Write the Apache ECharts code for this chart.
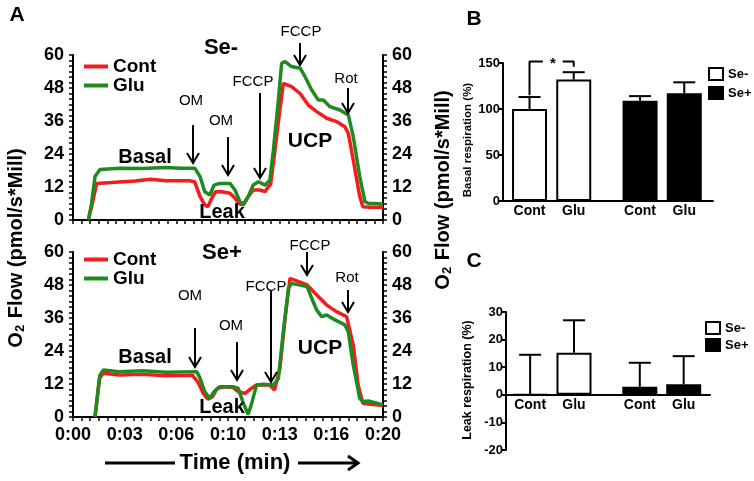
<!DOCTYPE html>
<html>
<head>
<meta charset="utf-8">
<script src="https://cdn.jsdelivr.net/npm/echarts@6/dist/echarts.min.js"></script>
<style>html,body{margin:0;padding:0;background:#fff;}#c{width:754px;height:481px;}</style>
</head>
<body>
<div id="c"></div>
<script>
// ---------- DATA ----------
const timeTickLabels = ['0:00','0:03','0:06','0:10','0:13','0:16','0:20'];
const seMinusCont = [[0.99,0],[1.25,6],[1.53,13.3],[2.5,13.6],[4,14.2],[5,14.8],[6,14.3],[7.5,14.3],[7.85,13.9],[8.2,8.5],[8.5,5.5],[8.7,4.8],[8.95,7.9],[9.2,10.3],[9.6,10.3],[10.13,9.7],[10.45,7.9],[10.77,5.8],[11.0,5.5],[11.3,8.5],[11.63,10.9],[12.06,10.9],[12.39,10.3],[12.6,12.1],[12.75,13],[13.0,24],[13.3,38],[13.57,49.7],[14.1,48.5],[14.65,46],[15.18,41.8],[15.72,39.4],[16.37,37],[17.0,35.8],[17.54,33.9],[17.76,31.5],[18.08,21.8],[18.5,8.5],[18.7,4.8],[19.2,4.6],[20,4.6]];
const seMinusGlu = [[0.99,0],[1.2,6],[1.42,15.8],[1.74,18.4],[3,18.8],[4.5,18.7],[6,19.1],[7.0,18.8],[7.87,18.8],[8.2,15.8],[8.5,10.3],[8.83,9.1],[9.1,12.7],[9.46,13.3],[10.13,13.3],[10.45,10.9],[10.77,6.7],[10.99,5.8],[11.3,8.5],[11.63,12.7],[11.96,13.9],[12.39,12.7],[12.7,14.5],[12.93,25.5],[13.25,43.6],[13.46,57],[13.68,57.6],[14.1,55.8],[14.65,55.2],[14.97,52.1],[15.4,47.3],[15.83,43.6],[16.15,43.6],[16.58,41.2],[17.22,40],[17.76,38.2],[18.08,30.3],[18.5,15.8],[18.83,6.7],[19.05,6.1],[20,5.8]];
const sePlusCont = [[1.42,0],[1.7,14],[1.96,15.9],[3,15.3],[4.5,15.5],[6,15],[7.7,15.2],[8.05,12.8],[8.4,8.6],[8.7,6.5],[9.0,7.4],[9.3,10.4],[9.8,11],[10.34,10.7],[10.66,9.2],[11.1,8.6],[11.5,10.4],[11.84,11.6],[12.7,11.6],[13.0,9.8],[13.35,17.7],[13.68,35.9],[14.0,50.4],[14.3,49.8],[15.1,48],[15.72,44.4],[16.37,40.7],[17.0,38.3],[17.65,36.5],[18.08,26.2],[18.4,11.6],[18.7,5],[19.2,4.6],[20,4.2]];
const sePlusGlu = [[1.42,0],[1.74,15.3],[1.96,17.1],[3,16.5],[4.5,16.8],[6,16.3],[7.98,16.5],[8.2,14.1],[8.5,9.2],[8.83,6.8],[9.1,9.2],[9.46,11],[10.34,11],[10.66,10.4],[10.99,5],[11.3,1],[11.5,4.4],[11.84,11.6],[12.28,11.9],[12.93,11.6],[13.25,14],[13.57,31],[13.9,46.8],[14.1,48.6],[15.1,47.4],[15.4,43.2],[15.72,38.9],[16.04,36.5],[16.37,37.1],[16.9,35.3],[17.54,33.5],[17.76,31],[18.08,18.9],[18.5,6.8],[18.7,5.6],[19.05,5.8],[19.9,4.6],[20,4.5]];

const barLabels = ['Cont','Glu','Cont','Glu'];
const barGroupPos = [0, 1, 2.5, 3.5];
const barDiet = ['Se-','Se-','Se+','Se+'];
const basalMean = [100, 132, 109, 117];
const basalErr = [13, 8, 5, 12];
const leakMean = [0, 15.2, 2.9, 3.8];
const leakErr = [14.5, 11.8, 8.7, 10.2];
const basalTicks = [0, 150, 50];
const leakTicks = [-20, 30, 10];
const flowTicks = [0, 60, 12, 6];      // min, max, major interval, minor subdivisions
const timeRange = [0, 20, 6, 6];       // min, max, major divisions, minor subdivisions
const sigBracketLeft = [[0,115],[0,151.5],[0.3,151.5]];
const sigBracketRight = [[0.75,151.5],[1,151.5],[1,146]];

// ---------- STYLE ----------
const FF = 'Arial, "Liberation Sans", Helvetica, sans-serif';
const RED = '#f41c1c', GREEN = '#1f8a1f';
const chart = echarts.init(document.getElementById('c'), null, {renderer:'canvas'});
const timeStep = (timeRange[1]-timeRange[0]) / timeRange[2];
const flowMinor = flowTicks[2] / flowTicks[3];
const timeMinor = timeStep / timeRange[3];

// axes use the minor step as interval; labels are only shown at the major positions
function flowY(grid, pos, margin){
  return {gridIndex:grid, type:'value', min:flowTicks[0], max:flowTicks[1], interval:flowMinor, position:pos,
    axisLine:{show:true, onZero:false, lineStyle:{color:'#000', width:2}},
    axisTick:{show:true, length:4, lineStyle:{color:'#000', width:1.5}},
    splitLine:{show:false},
    axisLabel:{fontFamily:FF, fontSize:18, fontWeight:'bold', color:'#000', margin:9,
      formatter:v => { const k = Math.round(v/flowMinor); return k % flowTicks[3] === 0 ? String(Math.round(v)) : ''; }}};
}
function timeX(grid, showLabels){
  return {gridIndex:grid, type:'value', min:timeRange[0], max:timeRange[1], interval:timeMinor, position:'bottom',
    axisLine:{show:true, onZero:false, lineStyle:{color:'#000', width:2}},
    axisTick:{show:true, length:4, lineStyle:{color:'#000', width:1.5}},
    splitLine:{show:false},
    axisLabel:{show:showLabels, fontFamily:FF, fontSize:18, fontWeight:'bold', color:'#000', margin:9,
      formatter:v => { const k = Math.round(v/timeMinor); return k % timeRange[3] === 0 ? (timeTickLabels[k/timeRange[3]] || '') : ''; }}};
}
function catX(grid, min, max, offset){
  return {gridIndex:grid, type:'value', min:min, max:max, interval:0.05, offset:offset,
    axisLine:{show:true, onZero:false, lineStyle:{color:'#000', width:2}}, axisTick:{show:false},
    splitLine:{show:false},
    axisLabel:{fontFamily:FF, fontSize:14, fontWeight:'bold', color:'#000', margin:3,
      formatter:v => { for (let i=0;i<barGroupPos.length;i++){ if (Math.abs(v-barGroupPos[i])<0.01) return barLabels[i]; } return ''; }}};
}
function pctY(grid, t){
  return {gridIndex:grid, type:'value', min:t[0], max:t[1], interval:t[2],
    axisLine:{show:true, onZero:false, lineStyle:{color:'#000', width:2}},
    axisTick:{show:true, length:4, lineStyle:{color:'#000', width:2}},
    splitLine:{show:false},
    axisLabel:{fontFamily:FF, fontSize:13, fontWeight:'bold', color:'#000', margin:3}};
}
function lineS(name, data, xi, yi, color){
  return {type:'line', name:name, data:data, xAxisIndex:xi, yAxisIndex:yi, symbol:'none',
    color:color, lineStyle:{color:color, width:3.5}, itemStyle:{color:color}};
}
const seMinusStyle = {color:'#fff', borderColor:'#000', borderWidth:2};
const sePlusStyle = {color:'#000', borderColor:'#000', borderWidth:2};
function barsFor(diet, means, xi, yi){
  const d = [];
  barGroupPos.forEach((p,i)=>{ if (barDiet[i]===diet) d.push([p, means[i]]); });
  return {type:'bar', name:diet, data:d, xAxisIndex:xi, yAxisIndex:yi, barWidth:35, barGap:'-100%',
    itemStyle: diet==='Se-' ? seMinusStyle : sePlusStyle};
}
function errFor(means, errs, xi, yi){
  return {type:'custom', xAxisIndex:xi, yAxisIndex:yi, z:5,
    data: barGroupPos.map((p,i)=>[p, means[i], errs[i]]),
    encode:{x:0, y:1},
    renderItem:(params, api)=>{
      const x = api.value(0), m = api.value(1), e = api.value(2);
      const p0 = api.coord([x, m]), p1 = api.coord([x, m+e]);
      const st = {stroke:'#000', lineWidth:2};
      return {type:'group', children:[
        {type:'line', shape:{x1:p0[0], y1:p0[1], x2:p1[0], y2:p1[1]}, style:st},
        {type:'line', shape:{x1:p1[0]-11, y1:p1[1], x2:p1[0]+11, y2:p1[1]}, style:st}
      ]};
    }};
}
function bracket(data){
  return {type:'line', data:data, xAxisIndex:2, yAxisIndex:4, symbol:'none', clip:false,
    lineStyle:{color:'#000', width:2}, silent:true};
}

// ---------- GRAPHICS (annotations) ----------
const g = [];
function txt(x, y, s, size, bold){
  g.push({type:'text', x:x, y:y, z:100, style:{text:s, fontFamily:FF, fontSize:size,
    fontWeight:bold?'bold':'normal', fill:'#000', align:'center', verticalAlign:'middle'}});
}
function arrow(x, y1, y2){
  g.push({type:'line', z:100, shape:{x1:x, y1:y1, x2:x, y2:y2}, style:{stroke:'#000', lineWidth:2}});
  g.push({type:'polyline', z:100, shape:{points:[[x-6,y2-10],[x,y2],[x+6,y2-10]]}, style:{stroke:'#000', lineWidth:2, fill:null}});
}
function vtxt(x, y, rich, text){
  g.push({type:'text', x:x, y:y, rotation:Math.PI/2, z:100, style:{text:text, rich:rich,
    fontFamily:FF, fill:'#000', align:'center', verticalAlign:'middle'}});
}
txt(17, 15, 'A', 21, true); txt(474, 19, 'B', 21, true); txt(474, 261, 'C', 21, true);
// top panel
txt(221, 48, 'Se-', 22, true);
txt(191, 101, 'OM', 15, false); arrow(193, 125, 163);
txt(221, 121, 'OM', 15, false); arrow(228, 137, 175);
txt(253, 82, 'FCCP', 15, false); arrow(260, 93, 178);
txt(301, 32, 'FCCP', 15, false); arrow(300, 43, 65);
txt(346, 79, 'Rot', 15, false); arrow(348, 88, 113);
txt(145, 157, 'Basal', 20, true); txt(310, 141, 'UCP', 21, true); txt(222, 212, 'Leak', 20, true);
// bottom panel
txt(222, 253, 'Se+', 22, true);
txt(190, 296, 'OM', 15, false); arrow(195, 328, 367);
txt(231, 326, 'OM', 15, false); arrow(237, 342, 380);
txt(266, 287, 'FCCP', 15, false); arrow(271, 290, 382);
txt(310, 246, 'FCCP', 15, false); arrow(307, 252, 275);
txt(347, 278, 'Rot', 15, false); arrow(348, 290, 312);
txt(145, 357, 'Basal', 20, true); txt(320, 348, 'UCP', 21, true); txt(222, 407, 'Leak', 20, true);
// axis titles
const o2rich = {b:{fontFamily:FF, fontSize:20, fontWeight:'bold', fill:'#000', lineHeight:22},
                s:{fontFamily:FF, fontSize:13, fontWeight:'bold', fill:'#000', lineHeight:22, verticalAlign:'bottom', padding:[0,1,0,0]}};
vtxt(16, 248, o2rich, '{b|O}{s|2}{b| Flow (pmol/s*Mill)}');
vtxt(443, 190, o2rich, '{b|O}{s|2}{b| Flow (pmol/s*Mill)}');
g.push({type:'text', x:468, y:140, rotation:Math.PI/2, z:100, style:{text:'Basal respiration (%)', fontFamily:FF, fontSize:11.5, fontWeight:'bold', fill:'#000', align:'center', verticalAlign:'middle'}});
g.push({type:'text', x:468, y:380, rotation:Math.PI/2, z:100, style:{text:'Leak respiration (%)', fontFamily:FF, fontSize:12.5, fontWeight:'bold', fill:'#000', align:'center', verticalAlign:'middle'}});
txt(553, 64, '*', 15, true);
// time axis title with arrows
txt(235, 463, 'Time (min)', 22, true);
g.push({type:'line', z:100, shape:{x1:105, y1:463, x2:175, y2:463}, style:{stroke:'#000', lineWidth:3}});
g.push({type:'line', z:100, shape:{x1:298, y1:463, x2:356, y2:463}, style:{stroke:'#000', lineWidth:3}});
g.push({type:'polyline', z:100, shape:{points:[[348,456],[358,463],[348,470]]}, style:{stroke:'#000', lineWidth:3, fill:null}});

const lineLegend = (top)=>({data:['Cont','Glu'], left:79, top:top, orient:'vertical', icon:'rect',
  itemWidth:24, itemHeight:4, itemGap:0, selectedMode:false,
  textStyle:{fontFamily:FF, fontSize:19, fontWeight:'bold', color:'#000', lineHeight:17}});
const barLegend = (left, top, gap)=>({data:['Se-','Se+'], left:left, top:top, orient:'vertical', icon:'rect',
  itemWidth:14, itemHeight:12, itemGap:gap, selectedMode:false,
  textStyle:{fontFamily:FF, fontSize:13, fontWeight:'bold', color:'#000'}});

const leakGridH = 138;
const leakZeroOffset = -leakGridH * (0 - leakTicks[0]) / (leakTicks[1] - leakTicks[0]);

chart.setOption({
  animation:false,
  backgroundColor:'#fff',
  grid:[
    {left:73, top:55, width:310, height:165},
    {left:73, top:252, width:310, height:165},
    {left:503, top:63, width:210, height:138},
    {left:506, top:312, width:204, height:leakGridH}
  ],
  xAxis:[timeX(0,false), timeX(1,true), catX(2,-0.6,4.15,0), catX(3,-0.55,4.1,leakZeroOffset)],
  yAxis:[flowY(0,'left',9), flowY(0,'right',5), flowY(1,'left',9), flowY(1,'right',5),
         pctY(2,basalTicks), pctY(3,leakTicks)],
  legend:[lineLegend(52), lineLegend(245), barLegend(703,62,5), barLegend(700,316,3)],
  series:[
    lineS('Cont', seMinusCont, 0, 0, RED),
    lineS('Glu', seMinusGlu, 0, 0, GREEN),
    lineS('Cont', sePlusCont, 1, 2, RED),
    lineS('Glu', sePlusGlu, 1, 2, GREEN),
    barsFor('Se-', basalMean, 2, 4),
    barsFor('Se+', basalMean, 2, 4),
    errFor(basalMean, basalErr, 2, 4),
    bracket(sigBracketLeft),
    bracket(sigBracketRight),
    barsFor('Se-', leakMean, 3, 5),
    barsFor('Se+', leakMean, 3, 5),
    errFor(leakMean, leakErr, 3, 5)
  ],
  graphic:g
});
</script>
</body>
</html>
